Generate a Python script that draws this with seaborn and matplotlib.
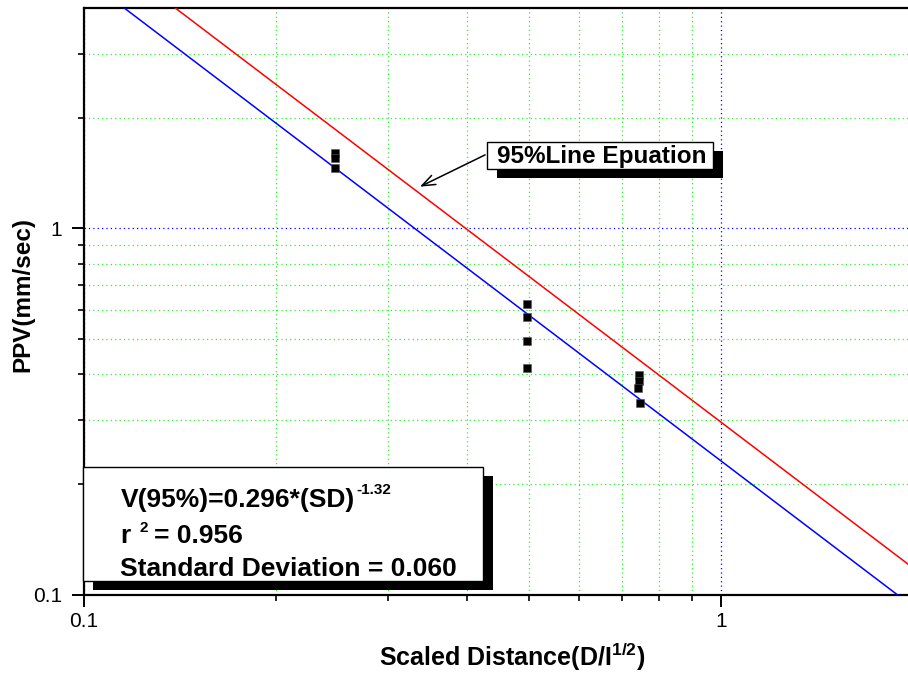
import numpy as np
import pandas as pd
import matplotlib
matplotlib.use("Agg")
import matplotlib.pyplot as plt
import matplotlib.ticker as mticker
import matplotlib.transforms as mtransforms
from matplotlib.patches import Rectangle
import seaborn as sns

# Measured peak particle velocity against scaled distance
sd_values = [0.248, 0.248, 0.248,
             0.497, 0.497, 0.497, 0.497,
             0.745, 0.743, 0.742, 0.747]
ppv_values = [1.61, 1.56, 1.46,
              0.622, 0.572, 0.494, 0.415,
              0.398, 0.383, 0.367, 0.334]

# Power-law attenuation lines V = k * SD^(-b)
fit_k, fit_b = 0.232, 1.32
line95_k, line95_b = 0.296, 1.32

x_range = [0.1, 2.0]
y_range = [0.1, 4.0]
major_ticks = [0.1, 1]
x_minor_ticks = [0.2, 0.3, 0.4, 0.5, 0.6, 0.7, 0.8, 0.9, 2]
y_minor_ticks = [0.2, 0.3, 0.4, 0.5, 0.6, 0.7, 0.8, 0.9, 2, 3]

eq_text = "V(95%)=0.296*(SD)"
eq_power = "-1.32"
r2_text = ("r", "2", "= 0.956")
sd_text = "Standard Deviation = 0.060"
arrow_label = "95%Line Epuation"

sns.set_style("ticks")
plt.rcParams["font.family"] = ["Liberation Sans", "DejaVu Sans"]
plt.rcParams["mathtext.fontset"] = "custom"
plt.rcParams["mathtext.default"] = "regular"
plt.rcParams["text.color"] = "black"
plt.rcParams["axes.labelcolor"] = "black"
plt.rcParams["xtick.color"] = "black"
plt.rcParams["ytick.color"] = "black"

W, H = 908, 675
fig = plt.figure(figsize=(W / 100, H / 100), dpi=100)
ax = fig.add_axes([84 / W, 1 - 594.5 / H, (912.4 - 84) / W, (594.5 - 8) / H])

# pixel transform measured from the top-left corner of the figure
px = mtransforms.Affine2D().scale(1 / W, -1 / H).translate(0, 1) + fig.transFigure

points = pd.DataFrame({"sd": sd_values, "ppv": ppv_values})
sd_line = np.array(x_range)
fit_df = pd.DataFrame({"sd": sd_line, "v": fit_k * sd_line ** (-fit_b)})
l95_df = pd.DataFrame({"sd": sd_line, "v": line95_k * sd_line ** (-line95_b)})

ax.set_xscale("log")
ax.set_yscale("log")

sns.lineplot(data=fit_df, x="sd", y="v", color="#0000ff", lw=1.1, ax=ax, zorder=3)
sns.lineplot(data=l95_df, x="sd", y="v", color="#ff0000", lw=1.1, ax=ax, zorder=3)
sns.scatterplot(data=points, x="sd", y="ppv", marker="s", s=34, color="black",
                edgecolor="#555555", linewidth=0.4, ax=ax, zorder=4)

ax.set_xlim(*x_range)
ax.set_ylim(*y_range)

fmt = mticker.FuncFormatter(lambda v, p: f"{v:g}")
for axis, minors in ((ax.xaxis, x_minor_ticks), (ax.yaxis, y_minor_ticks)):
    axis.set_major_locator(mticker.FixedLocator(major_ticks))
    axis.set_minor_locator(mticker.FixedLocator(minors))
    axis.set_major_formatter(fmt)
    axis.set_minor_formatter(mticker.NullFormatter())

ax.grid(which="major", color="#0000ff", ls=(0, (1, 2.5)), lw=0.9)
ax.grid(which="minor", color="#2ef02e", ls=(0, (1, 2.5)), lw=0.9)
ax.set_axisbelow(True)

ax.tick_params(which="major", direction="out", length=8.5, width=1.4,
               labelsize=15, color="black", labelcolor="black")
ax.tick_params(axis="x", which="major", pad=4)
ax.tick_params(axis="y", which="major", pad=7)
ax.tick_params(which="minor", direction="out", length=4.5, width=1.2, color="black")
for side in ("left", "bottom", "top", "right"):
    ax.spines[side].set_linewidth(1.6)
    ax.spines[side].set_color("black")

ax.set_xlabel("Scaled Distance(D/I$^{1/2}$)", fontsize=18, fontweight="bold")
ax.set_ylabel("PPV(mm/sec)", fontsize=17.5, fontweight="bold")
ax.xaxis.set_label_coords((512 - 84) / 828.4, (594.5 - 641) / 586.5)
ax.yaxis.set_label_coords((34 - 84) / 828.4, (594.5 - 295) / 586.5)


# white box with a solid black drop shadow, given by its pixel corners
def box(x0, y0, x1, y1, off=(10, 9)):
    w, h = x1 - x0, y1 - y0
    ax.add_patch(Rectangle((x0 + off[0], y0 + off[1]), w, h, transform=px,
                           facecolor="black", edgecolor="none",
                           clip_on=False, zorder=6))
    ax.add_patch(Rectangle((x0, y0), w, h, transform=px,
                           facecolor="white", edgecolor="black",
                           lw=1.0, clip_on=False, zorder=7))


def put(x, y, s, size):
    return ax.text(x, y, s, transform=px, fontsize=size, fontweight="bold",
                   ha="left", va="baseline", zorder=8)


box(487, 142, 713, 169)
ax.text(602, 156, arrow_label, transform=px, fontsize=17.5, fontweight="bold",
        ha="center", va="center", zorder=8)

box(83, 467, 483, 581)
renderer = fig.canvas.get_renderer()
t1 = put(120.5, 507, eq_text, 19)
x_end = t1.get_window_extent(renderer).x1
put(x_end + 1.5, 493.5, eq_power, 11)
put(120.5, 543, r2_text[0], 19)
put(139.5, 532.5, r2_text[1], 11)
put(154.5, 543, r2_text[2], 19)
put(120.5, 576, sd_text, 19)

ax.annotate("", xy=(0.337, 1.30), xytext=(0.4265, 1.588),
            arrowprops=dict(arrowstyle="->,head_length=0.95,head_width=0.36",
                            color="black", lw=1.1, shrinkA=0, shrinkB=0),
            zorder=5)

fig.savefig("out.png", dpi=100)
